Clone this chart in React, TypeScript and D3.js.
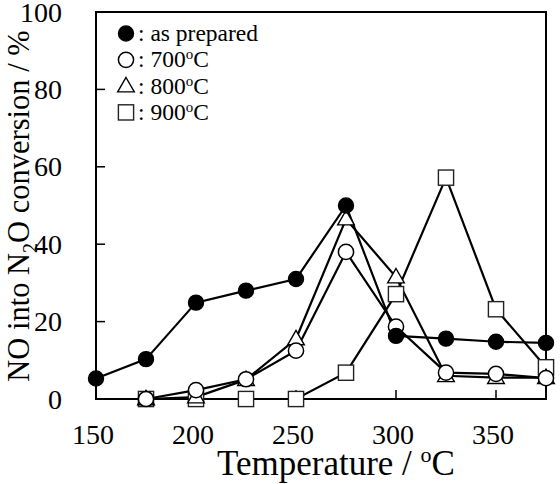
import React from 'react';
import * as d3 from 'd3';

// reaction temperatures (degC)
const temps = [150, 175, 200, 225, 250, 275, 300, 325, 350, 375];

// NO -> N2O conversion (%), null where not measured
const asPrepared = [5.3, 10.3, 24.9, 28, 31, 50, 16.3, 15.6, 14.8, 14.5];
const cal700 = [null, 0, 2.3, 5.1, 12.5, 38, 18.7, 6.8, 6.5, 5.4];
const cal800 = [null, 0, 0.5, 5, 15.5, 46.5, 31.5, 6, 5.5, 5.5];
const cal900 = [null, 0, 0, 0, 0, 6.8, 27.1, 57.2, 23.2, 8.2];

const xTicks = [150, 200, 250, 300, 350];
const yTicks = [0, 20, 40, 60, 80, 100];

const legendLabels = [': as prepared', ': 700', ': 800', ': 900'];

const W = 560, H = 484;
const margin = { top: 12, right: 14, bottom: 85, left: 96 };
const font = '"Liberation Serif", "Times New Roman", serif';

function Marker({ kind, x, y }: { kind: string; x: number; y: number }) {
  const s = 7.6;
  if (kind === 'filled') return <circle cx={x} cy={y} r={s} fill="#000" stroke="#000" strokeWidth={1.2} />;
  if (kind === 'circle') return <circle cx={x} cy={y} r={s} fill="#fff" stroke="#000" strokeWidth={1.5} />;
  if (kind === 'square') return <rect x={x - s} y={y - s} width={2 * s} height={2 * s} fill="#fff" stroke="#222" strokeWidth={1.4} />;
  const tri = d3.symbol().type(d3.symbolTriangle).size(120)();
  return <path d={tri || ''} transform={`translate(${x},${y + 1})`} fill="#fff" stroke="#000" strokeWidth={1.4} />;
}

export default function App() {
  const x = d3.scaleLinear().domain([150, 375]).range([margin.left, W - margin.right]);
  const y = d3.scaleLinear().domain([0, 100]).range([H - margin.bottom, margin.top]);

  const series = [
    { kind: 'square', values: cal900 },
    { kind: 'triangle', values: cal800 },
    { kind: 'circle', values: cal700 },
    { kind: 'filled', values: asPrepared },
  ];

  const line = d3.line<[number, number | null]>()
    .defined(d => d[1] !== null)
    .x(d => x(d[0]))
    .y(d => y(d[1] as number));

  const x0 = x(150), x1 = x(375), y0 = y(0), y1 = y(100);
  const legendKinds = ['filled', 'circle', 'triangle', 'square'];

  return (
    <svg width={W} height={H} style={{ position: 'absolute', left: 0, top: 0, background: '#fff' }} fontFamily={font}>
      {/* frame */}
      <rect x={x0} y={y1} width={x1 - x0} height={y0 - y1} fill="none" stroke="#000" strokeWidth={2} />

      {/* inward ticks */}
      {xTicks.filter(t => t > 150).map(t => (
        <line key={'xt' + t} x1={x(t)} x2={x(t)} y1={y0} y2={y0 - 9} stroke="#000" strokeWidth={1.5} />
      ))}
      {yTicks.filter(t => t > 0 && t < 100).map(t => (
        <line key={'yt' + t} x1={x0} x2={x0 + 9} y1={y(t)} y2={y(t)} stroke="#000" strokeWidth={1.5} />
      ))}

      {/* tick labels */}
      {xTicks.map(t => (
        <text key={'xl' + t} x={x(t) - 3} y={444} fontSize={28} textAnchor="middle">{t}</text>
      ))}
      {yTicks.map(t => (
        <text key={'yl' + t} x={62} y={y(t) + 9.5} fontSize={28} textAnchor="end">{t}</text>
      ))}

      {/* axis titles */}
      <text x={336} y={475} fontSize={35} textAnchor="middle">
        Temperature / <tspan fontSize={22} dy={-13}>o</tspan><tspan dy={13}>C</tspan>
      </text>
      <text transform="translate(29,206) rotate(-90)" fontSize={30.5} textAnchor="middle">
        NO into N<tspan fontSize={20} dy={8}>2</tspan><tspan dy={-8}>O conversion / %</tspan>
      </text>

      {/* lines */}
      {series.map(s => (
        <path key={'l' + s.kind}
          d={line(temps.map((t, i) => [t, s.values[i]] as [number, number | null])) || ''}
          fill="none" stroke="#000" strokeWidth={2.2} />
      ))}

      {/* markers */}
      {series.map(s => (
        <g key={'m' + s.kind}>
          {temps.map((t, i) => s.values[i] === null ? null :
            <Marker key={t} kind={s.kind} x={x(t)} y={y(s.values[i] as number)} />)}
        </g>
      ))}

      {/* legend */}
      {legendLabels.map((lab, i) => {
        const cy = 33.5 + i * 26.3;
        return (
          <g key={'lg' + i}>
            <Marker kind={legendKinds[i]} x={126} y={cy} />
            <text x={138} y={cy + 7.5} fontSize={23.5}>
              {lab}
              {i > 0 && <><tspan fontSize={15} dy={-8}>o</tspan><tspan dy={8}>C</tspan></>}
            </text>
          </g>
        );
      })}
    </svg>
  );
}
